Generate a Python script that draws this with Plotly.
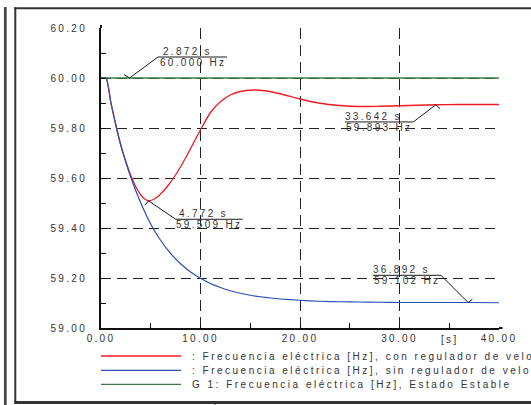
import plotly.graph_objects as go

# ---------------- data ----------------
t_con = [0, 0.5, 1.0, 1.5, 2.0, 2.5, 3.0, 3.5, 4.0, 4.4, 4.772, 5.2, 5.7, 6.2, 6.8, 7.4,
         8.0, 8.7, 9.4, 10.1, 11.0, 12.0, 13.0, 14.0, 15.3, 16.5, 18.0, 20.0, 22.0,
         24.0, 26.0, 28.0, 30.0, 33.642, 36.0, 40.0]
f_con = [60.000, 60.000, 59.900, 59.810, 59.730, 59.665, 59.610, 59.565, 59.532, 59.516,
         59.509, 59.513, 59.525, 59.545, 59.573, 59.607, 59.645, 59.695, 59.748, 59.800,
         59.862, 59.905, 59.932, 59.946, 59.952, 59.949, 59.937, 59.916, 59.899, 59.890,
         59.886, 59.887, 59.889, 59.893, 59.894, 59.894]

t_sin = [0, 0.5, 1.0, 1.5, 2.0, 2.5, 3.0, 3.5, 4.0, 4.772, 5.5, 6.0, 7.0, 8.0, 9.0, 10.0,
         11.0, 12.0, 13.0, 14.0, 15.0, 16.0, 17.0, 18.0, 20.0, 22.0, 24.0, 26.0, 28.0,
         30.0, 33.0, 36.892, 40.0]
f_sin = [60.000, 60.000, 59.900, 59.810, 59.730, 59.663, 59.602, 59.549, 59.500, 59.433,
         59.381, 59.350, 59.298, 59.257, 59.224, 59.199, 59.178, 59.162, 59.149, 59.139,
         59.131, 59.125, 59.120, 59.116, 59.111, 59.107, 59.105, 59.104, 59.103, 59.102,
         59.102, 59.102, 59.101]

t_est = [0, 40]
f_est = [60.000, 60.000]

series_names = [": Frecuencia eléctrica [Hz], con regulador de velocidad",
                ": Frecuencia eléctrica [Hz], sin regulador de velocidad",
                "G 1: Frecuencia eléctrica [Hz], Estado Estable"]

x_ticks = [0, 10, 20, 30, 40]
x_ticklabels = ["0.00", "10.00", "20.00", "30.00", "40.00"]
x_unit_pos = 35
x_unit_label = "[s]"
y_ticks = [59.0, 59.2, 59.4, 59.6, 59.8, 60.0, 60.2]
y_ticklabels = ["59.00", "59.20", "59.40", "59.60", "59.80", "60.00", "60.20"]

ann_t = [2.872, 4.772, 33.642, 36.892]
ann_f = [60.000, 59.509, 59.893, 59.102]
ann_t_text = ["2.872 s", "4.772 s", "33.642 s", "36.892 s"]
ann_f_text = ["60.000 Hz", "59.509 Hz", "59.893 Hz", "59.102 Hz"]

# ---------------- style ----------------
W, H = 531, 405
ML, MR, MT, MB = 101, 32, 28, 77
FONT = "Liberation Sans, Arial, sans-serif"
FS = 10
TXT = "#333333"
LS = "letter-spacing:2.3px"
LS_LEG = "letter-spacing:2.5px"
col_con, col_sin, col_est = "#ee1c24", "#2b4fb3", "#3d7d45"


def sp(s, ls=LS):
    return f'<span style="{ls}">{s}</span>'


def px(xp):
    return (xp - ML) / (W - ML - MR)


def py(yp):
    return (H - MB - yp) / (H - MT - MB)


fig = go.Figure()
fig.add_trace(go.Scatter(x=t_con, y=f_con, mode="lines", name=series_names[0],
                         line=dict(color=col_con, width=1.3, shape="spline", smoothing=0.6),
                         showlegend=False))
fig.add_trace(go.Scatter(x=t_sin, y=f_sin, mode="lines", name=series_names[1],
                         line=dict(color=col_sin, width=1.2, shape="spline", smoothing=0.6),
                         showlegend=False))
fig.add_trace(go.Scatter(x=t_est, y=f_est, mode="lines", name=series_names[2],
                         line=dict(color=col_est, width=1.6), showlegend=False))

shapes = []
annotations = []

# leader geometry (pixel offsets from the marked point): tick, knee, underline end, text offsets
leaders = [
    dict(tick=(-5.5, 3.3), knee=(28.4, 21), end=(97.4, 21), t1=(58, 26.5), t2=(63, 15.5)),
    dict(tick=(-3.5, -4.5), knee=(27.2, -18.5), end=(94.2, -18.5), t1=(55.5, -12.3), t2=(60.7, -23.3)),
    dict(tick=(4.3, -4), knee=(-22.4, -17.2), end=(-90.7, -17.2), t1=(-62.4, -11.7), t2=(-56.7, -22.7)),
    dict(tick=(4.4, 3.3), knee=(-27.1, 27.2), end=(-95.4, 27.2), t1=(-66.8, 33.1), t2=(-61, 22.0)),
]
for t, f, s1, s2, g in zip(ann_t, ann_f, ann_t_text, ann_f_text, leaders):
    segs = [((0, 0), g["tick"]), ((0, 0), g["knee"]), (g["knee"], g["end"])]
    for (a, b) in segs:
        shapes.append(dict(type="line", xref="x", yref="y", xsizemode="pixel", ysizemode="pixel",
                           xanchor=t, yanchor=f, x0=a[0], y0=a[1], x1=b[0], y1=b[1],
                           line=dict(color="#1a1a1a", width=1)))
    annotations.append(dict(x=t, y=f, xref="x", yref="y", text=sp(s1), showarrow=False,
                            xshift=g["t1"][0], yshift=g["t1"][1], xanchor="center", yanchor="middle",
                            borderpad=0, font=dict(family=FONT, size=FS, color=TXT)))
    annotations.append(dict(x=t, y=f, xref="x", yref="y", text=sp(s2), showarrow=False,
                            xshift=g["t2"][0], yshift=g["t2"][1], xanchor="center", yanchor="middle",
                            borderpad=0, font=dict(family=FONT, size=FS, color=TXT)))

# unit label on x axis
annotations.append(dict(x=x_unit_pos, y=0, xref="x", yref="paper", text=sp(x_unit_label),
                        showarrow=False, yshift=-11.5, xanchor="center", yanchor="middle",
                        font=dict(family=FONT, size=FS, color=TXT)))

# manual legend
leg_y = [356, 370.3, 384.3]
leg_cols = [col_con, col_sin, col_est]
for name, yy, c in zip(series_names, leg_y, leg_cols):
    shapes.append(dict(type="line", xref="paper", yref="paper", x0=px(101), x1=px(181),
                       y0=py(yy), y1=py(yy), line=dict(color=c, width=1.3)))
    annotations.append(dict(x=px(191), y=py(yy), xref="paper", yref="paper", text=sp(name, LS_LEG),
                            showarrow=False, xanchor="left", yanchor="middle", borderpad=0,
                            font=dict(family=FONT, size=FS, color=TXT)))

# outer frame and small axis-line overshoots
frame = "#333333"
shapes += [
    dict(type="line", xref="paper", yref="paper", x0=px(5.3), x1=px(5.3), y0=py(7), y1=py(405),
         line=dict(color="#444444", width=2.7)),
    dict(type="line", xref="paper", yref="paper", x0=px(15.3), x1=px(15.3), y0=py(7.3), y1=py(403),
         line=dict(color=frame, width=2)),
    dict(type="line", xref="paper", yref="paper", x0=px(14.3), x1=px(531), y0=py(8.3), y1=py(8.3),
         line=dict(color=frame, width=2)),
    dict(type="line", xref="paper", yref="paper", x0=px(14.3), x1=px(531), y0=py(402.5), y1=py(402.5),
         line=dict(color=frame, width=3)),
    dict(type="line", xref="paper", yref="paper", x0=px(215), x1=px(215), y0=py(401), y1=py(405),
         line=dict(color=frame, width=1)),
    dict(type="line", xref="paper", yref="paper", x0=0, x1=0, y0=1, y1=py(25),
         line=dict(color="#111111", width=2)),
    dict(type="line", xref="paper", yref="paper", x0=1, x1=px(502.5), y0=0, y1=0,
         line=dict(color="#111111", width=2)),
]

axis_common = dict(showline=True, linecolor="#111111", linewidth=2, zeroline=False,
                   ticks="inside", ticklen=5, tickwidth=1.3, tickcolor="#111111",
                   showgrid=True, gridcolor="#222222", gridwidth=1,
                   tickfont=dict(family=FONT, size=FS, color=TXT))

fig.update_xaxes(range=[0, 40], tickmode="array", tickvals=x_ticks,
                 ticktext=[sp(s) for s in x_ticklabels], griddash="11px,6px",
                 minor=dict(tickmode="linear", tick0=0, dtick=5, ticks="inside", ticklen=5,
                            tickwidth=1.3, tickcolor="#111111", showgrid=False),
                 ticklabelstandoff=0, **axis_common)
fig.update_yaxes(range=[59.0, 60.2], tickmode="array", tickvals=y_ticks,
                 ticktext=[sp(s) for s in y_ticklabels], griddash="10px,6px",
                 minor=dict(tickmode="linear", tick0=59.0, dtick=0.1, ticks="inside", ticklen=5,
                            tickwidth=1.3, tickcolor="#111111", showgrid=False),
                 ticklabelstandoff=10, **axis_common)

fig.update_layout(width=W, height=H, margin=dict(l=ML, r=MR, t=MT, b=MB),
                  paper_bgcolor="white", plot_bgcolor="white",
                  shapes=shapes, annotations=annotations, showlegend=False)

fig.write_html("out.html", config={"displayModeBar": False},
               post_script="document.body.style.margin='0';document.body.style.overflow='hidden';")
